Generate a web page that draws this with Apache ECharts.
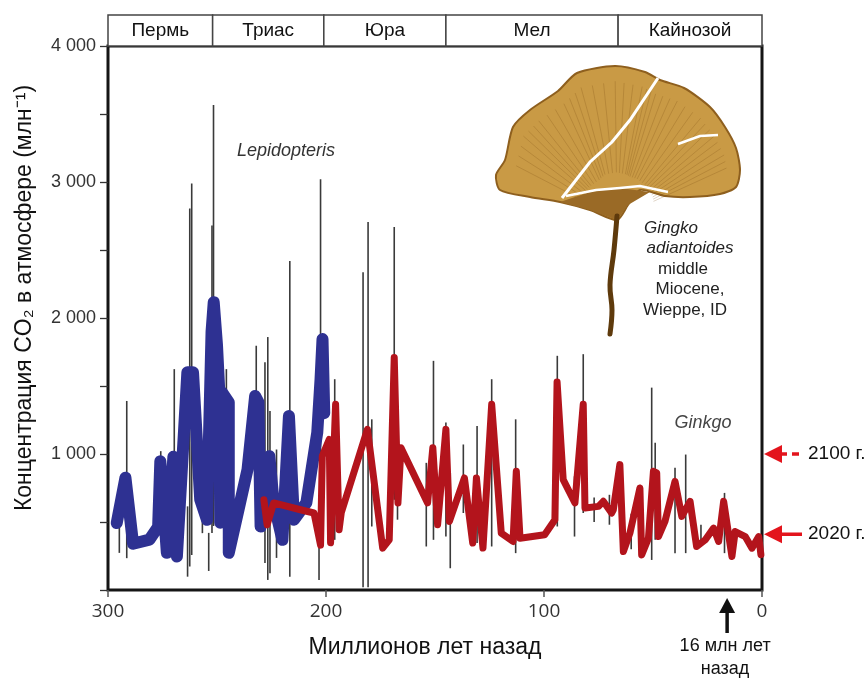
<!DOCTYPE html>
<html>
<head>
<meta charset="utf-8">
<title>CO2 и Ginkgo</title>
<script src="https://cdn.jsdelivr.net/npm/echarts/dist/echarts.min.js"></script>
<style>
    html, body { margin: 0; padding: 0; background: #fff; }
    #main { width: 868px; height: 691px; }
</style>
</head>
<body>
<div id="main"></div>
<script>
// геологические периоды (млн лет назад)
const periodNames = ['Пермь', 'Триас', 'Юра', 'Мел', 'Кайнозой'];
const periodStart = [300, 252, 201, 145, 66];
const periodEnd = [252, 201, 145, 66, 0];

// Lepidopteris - синяя линия
const blueAge = [296, 292, 288.5, 281, 277, 276, 273, 270, 268.4, 263.6, 261, 257.7, 254.6, 252.5, 251.5,
    250, 249, 248.5, 247.7, 244.6, 244.6, 240, 236, 232.5, 231, 230, 226, 224, 220, 217, 214.7, 209,
    204, 202.5, 201.6, 200.8];
const blueCo2 = [492, 826, 340, 370, 465, 947, 273, 980, 246, 1601, 1601, 664, 516, 1900, 2116,
    1800, 1476, 494, 1454, 1380, 273, 600, 886, 1427, 1380, 467, 984, 642, 369, 1279, 517, 642,
    1159, 1550, 1845, 1300];

// Ginkgo - красная линия
const redAge = [228.5, 227, 224, 211.7, 205.5, 202.5, 201.7, 198.5, 197.9, 195.6, 194, 193, 181, 174, 171,
    168.7, 167, 165.6, 153.4, 151, 148.8, 145, 143.4, 136.5, 132.7, 131, 128, 124, 119.6, 114.2,
    112.7, 111, 99.7, 95, 94, 91.2, 85.8, 82, 81.2, 75, 72.8, 69, 68.2, 65.2, 63.6, 60.6, 56, 55.2,
    52.1, 49.8, 48.3, 47.5, 44.5, 39.9, 36.8, 33, 30, 26, 22.2, 19.9, 17.6, 13.8, 12.3, 7.7, 4.6,
    1.5, 0.5];
const redCo2 = [664, 480, 640, 590, 566, 330, 984, 1107, 347, 1365, 443, 568, 1181, 308, 369,
    1710, 640, 1046, 640, 1046, 480, 1181, 504, 824, 345, 824, 308, 1365, 418, 357,
    873, 381, 406, 516, 1530, 812, 640, 1365, 603, 615, 652, 566, 590, 922, 283, 418, 750, 258,
    381, 873, 861, 393, 504, 799, 541, 652, 320, 369, 455, 357, 652, 246, 430, 393, 308,
    393, 260];

// погрешности оценок (вертикальные отрезки)
const errAge = [294.8, 291.4, 275.8, 269.6, 263.5, 262.5, 261.6, 256.7, 253.8, 252.3, 251.6, 248, 245.7,
    232, 228, 226.7, 225.7, 222.7, 216.6, 203.2, 202.5, 196, 183, 180.7, 179, 168.7, 167.2, 154,
    150.7, 145, 143, 137, 130.7, 124, 113, 93.9, 86, 82, 77, 70, 60, 50.6, 49, 39.9, 35, 28, 17.2];
const errLow = [273, 234, 788, 221, 98, 172, 258, 418, 140, 420, 470, 467, 541,
    541, 199, 74, 123, 236, 98, 74, 420, 369, 20, 20, 467, 664, 517, 320,
    369, 393, 160, 566, 345, 320, 271, 467, 393, 566, 500, 480, 300, 221, 369, 271, 271, 330, 271];
const errHigh = [467, 1390, 1021, 1624, 615, 2805, 2989, 836, 420, 2681, 3567, 1587, 1624,
    1796, 1675, 1860, 1316, 1033, 2420, 664, 3020, 1550, 2337, 2706, 1255, 2669, 1205, 935,
    1685, 1232, 861, 1070, 1205, 1550, 1255, 1722, 836, 1734, 680, 700, 560, 1488, 1082, 898, 996, 480, 714];

// уровни CO2 сегодня и в будущем
const markYears = ['2100 г.', '2020 г.'];
const markLevels = [1000, 410];
const markDashed = [true, false];

const ginkgoCaption = ['Gingko', 'adiantoides', 'middle', 'Miocene,', 'Wieppe, ID'];

const zip = (xs, ys) => xs.map((x, i) => [x, ys[i]]);
const fmtThousands = v => (v === 0 ? '' : String(v).replace(/\B(?=(\d{3})+(?!\d))/g, ' '));

const renderErr = (params, api) => {
    const top = api.coord([api.value(0), api.value(2)]);
    const bottom = api.coord([api.value(0), api.value(1)]);
    return {
        type: 'line',
        shape: { x1: top[0], y1: top[1], x2: bottom[0], y2: bottom[1] },
        style: { stroke: '#3a3a3a', lineWidth: 1.6 }
    };
};

const renderPeriod = (params, api) => {
    const a = api.coord([api.value(0), 1]);
    const b = api.coord([api.value(1), 0]);
    const x = Math.min(a[0], b[0]);
    const w = Math.abs(b[0] - a[0]);
    return {
        type: 'group',
        children: [
            {
                type: 'rect',
                shape: { x: x, y: a[1], width: w, height: b[1] - a[1] },
                style: { fill: '#fff', stroke: '#444', lineWidth: 1.5 }
            },
            {
                type: 'text',
                x: x + w / 2,
                y: (a[1] + b[1]) / 2,
                style: {
                    text: periodNames[params.dataIndex],
                    textAlign: 'center',
                    textVerticalAlign: 'middle',
                    font: '19px "Liberation Sans", Arial, sans-serif',
                    fill: '#111'
                }
            }
        ]
    };
};

const chart = echarts.init(document.getElementById('main'));

chart.setOption({
    animation: false,
    backgroundColor: '#fff',
    grid: [
        {
            left: 108, right: 106, top: 46, bottom: 101,
            show: true, borderColor: '#151515', borderWidth: 3, backgroundColor: 'transparent'
        },
        { left: 108, right: 106, top: 15, height: 31 }
    ],
    xAxis: [
        {
            type: 'value', gridIndex: 0, min: 0, max: 300, interval: 100, inverse: true,
            axisLine: { show: false, onZero: false },
            axisTick: { show: true, length: 7, lineStyle: { color: '#555', width: 1.5 } },
            axisLabel: { fontSize: 19, color: '#333', margin: 12, fontFamily: 'Open Sans' },
            splitLine: { show: false }
        },
        {
            type: 'value', gridIndex: 1, min: 0, max: 300, inverse: true, show: false
        }
    ],
    yAxis: [
        {
            type: 'value', gridIndex: 0, min: 0, max: 4000, interval: 1000, position: 'left',
            axisLine: { show: false, onZero: false },
            axisTick: { show: true, length: 8, lineStyle: { color: '#333', width: 1.3 } },
            minorTick: { show: true, splitNumber: 2, length: 8, lineStyle: { color: '#333', width: 1.3 } },
            axisLabel: {
                fontSize: 18, color: '#333', margin: 12,
                fontFamily: 'Liberation Sans', formatter: fmtThousands
            },
            splitLine: { show: false }
        },
        { type: 'value', gridIndex: 1, min: 0, max: 1, show: false }
    ],
    series: [
        {
            name: 'errors',
            type: 'custom',
            xAxisIndex: 0, yAxisIndex: 0,
            renderItem: renderErr,
            encode: { x: 0, y: [1, 2] },
            data: errAge.map((a, i) => [a, errLow[i], errHigh[i]]),
            z: 1
        },
        {
            name: 'Lepidopteris',
            type: 'line',
            xAxisIndex: 0, yAxisIndex: 0,
            data: zip(blueAge, blueCo2),
            symbol: 'none',
            lineStyle: { color: '#2e3192', width: 12, cap: 'round', join: 'round' },
            z: 2
        },
        {
            name: 'Ginkgo',
            type: 'line',
            xAxisIndex: 0, yAxisIndex: 0,
            data: zip(redAge, redCo2),
            symbol: 'none',
            lineStyle: { color: '#b3141c', width: 7, cap: 'round', join: 'round' },
            z: 3
        },
        {
            name: 'periods',
            type: 'custom',
            xAxisIndex: 1, yAxisIndex: 1,
            renderItem: renderPeriod,
            encode: { x: [0, 1] },
            data: periodStart.map((s, i) => [s, periodEnd[i]]),
            z: 1
        }
    ]
});

// декоративный лист гинкго
const leafOutline = [[617, 220], [590, 210], [560, 202], [530, 197], [500, 190], [496, 175], [505, 160],
    [513, 127], [530, 110], [558, 91], [577, 73], [615, 66], [645, 72], [660, 80], [684, 88], [710, 107],
    [725, 127], [736, 148], [740, 170], [736, 187], [720, 194], [690, 197], [665, 196], [640, 190], [628, 205]];
const leafBase = [617, 218];

const buildLeaf = () => {
    const items = [];
    items.push({
        type: 'polygon',
        shape: { points: leafOutline, smooth: 0.25 },
        style: { fill: '#c99a45', stroke: '#8e5f1e', lineWidth: 2 },
        z: 5
    });
    // жилки только в верхней части веера
    for (let i = 3; i < leafOutline.length - 4; i++) {
        const p = leafOutline[i];
        const q = leafOutline[i + 1];
        [0, 0.33, 0.66].forEach(t => {
            const px = p[0] + (q[0] - p[0]) * t;
            const py = p[1] + (q[1] - p[1]) * t;
            if (py > 165) {
                return;
            }
            items.push({
                type: 'line',
                shape: {
                    x1: leafBase[0] + (px - leafBase[0]) * 0.3,
                    y1: leafBase[1] + (py - leafBase[1]) * 0.3,
                    x2: leafBase[0] + (px - leafBase[0]) * 0.9,
                    y2: leafBase[1] + (py - leafBase[1]) * 0.9
                },
                style: { stroke: 'rgba(120, 74, 16, 0.3)', lineWidth: 0.8 },
                z: 6
            });
        });
    }
    items.push({
        type: 'polygon',
        shape: { points: [[560, 202], [590, 192], [620, 188], [650, 192], [628, 205], [617, 220], [590, 210]] },
        style: { fill: '#9a6a26' },
        z: 6
    });
    items.push({
        type: 'polyline',
        shape: { points: [[658, 78], [630, 120], [612, 142], [590, 162], [576, 180], [562, 198]] },
        style: { stroke: '#fff', lineWidth: 3 },
        z: 7
    });
    items.push({
        type: 'polyline',
        shape: { points: [[678, 144], [700, 136], [718, 135]] },
        style: { stroke: '#fff', lineWidth: 2.5 },
        z: 7
    });
    items.push({
        type: 'polyline',
        shape: { points: [[566, 196], [596, 190], [620, 188], [640, 186], [668, 192]] },
        style: { stroke: '#fff', lineWidth: 2.5 },
        z: 7
    });
    items.push({
        type: 'polyline',
        shape: { points: [[617, 216], [614, 250], [610, 285], [612, 310], [610, 334]], smooth: 0.4 },
        style: { stroke: '#5e3a0c', lineWidth: 5, lineCap: 'round' },
        z: 7
    });
    return items;
};

const buildTexts = () => {
    const items = [];
    ginkgoCaption.forEach((line, i) => {
        items.push({
            type: 'text',
            x: [671, 690, 683, 690, 685][i],
            y: 228 + i * 20.5,
            style: {
                text: line,
                textAlign: 'center',
                textVerticalAlign: 'middle',
                font: (i < 2 ? 'italic ' : '') + '17px "Liberation Sans", Arial, sans-serif',
                fill: '#222'
            },
            z: 8
        });
    });
    items.push({
        type: 'text', x: 286, y: 151,
        style: {
            text: 'Lepidopteris', textAlign: 'center', textVerticalAlign: 'middle',
            font: 'italic 18px "Liberation Sans", Arial, sans-serif', fill: '#333'
        },
        z: 8
    });
    items.push({
        type: 'text', x: 703, y: 423,
        style: {
            text: 'Ginkgo', textAlign: 'center', textVerticalAlign: 'middle',
            font: 'italic 18px "Liberation Sans", Arial, sans-serif', fill: '#444'
        },
        z: 8
    });
    items.push({
        type: 'text', x: 25, y: 298, rotation: Math.PI / 2,
        style: {
            text: 'Концентрация CO₂ в атмосфере (млн⁻¹)', textAlign: 'center', textVerticalAlign: 'middle',
            font: '23px "Liberation Sans", Arial, sans-serif', fill: '#111'
        }
    });
    items.push({
        type: 'text', x: 425, y: 648,
        style: {
            text: 'Миллионов лет назад', textAlign: 'center', textVerticalAlign: 'middle',
            font: '23px "Liberation Sans", Arial, sans-serif', fill: '#111'
        }
    });
    return items;
};

const buildArrows = () => {
    const items = [];
    const xr = chart.convertToPixel({ xAxisIndex: 0 }, 0);
    markLevels.forEach((lvl, i) => {
        const y = chart.convertToPixel({ yAxisIndex: 0 }, lvl);
        items.push({
            type: 'polygon',
            shape: { points: [[xr + 2, y], [xr + 20, y - 9], [xr + 20, y + 9]] },
            style: { fill: '#e3141c' }
        });
        items.push({
            type: 'line',
            shape: { x1: xr + 18, y1: y, x2: xr + 40, y2: y },
            style: { stroke: '#e3141c', lineWidth: 3.5, lineDash: markDashed[i] ? [7, 5] : null }
        });
        items.push({
            type: 'text', x: xr + 46, y: y,
            style: {
                text: markYears[i], textVerticalAlign: 'middle',
                font: '19px "Liberation Sans", Arial, sans-serif', fill: '#111'
            }
        });
    });
    const x16 = chart.convertToPixel({ xAxisIndex: 0 }, 16);
    const yb = chart.convertToPixel({ yAxisIndex: 0 }, 0);
    items.push({
        type: 'polygon',
        shape: { points: [[x16, yb + 8], [x16 - 8, yb + 23], [x16 + 8, yb + 23]] },
        style: { fill: '#111' }
    });
    items.push({
        type: 'line',
        shape: { x1: x16, y1: yb + 20, x2: x16, y2: yb + 43 },
        style: { stroke: '#111', lineWidth: 3.5 }
    });
    items.push({
        type: 'text', x: x16 - 2, y: yb + 68,
        style: {
            text: '16 млн лет\nназад', textAlign: 'center', textVerticalAlign: 'middle',
            font: '18px "Liberation Sans", Arial, sans-serif', fill: '#111', lineHeight: 23
        }
    });
    return items;
};

chart.setOption({
    graphic: [].concat(buildLeaf(), buildTexts(), buildArrows())
});
</script>
</body>
</html>
